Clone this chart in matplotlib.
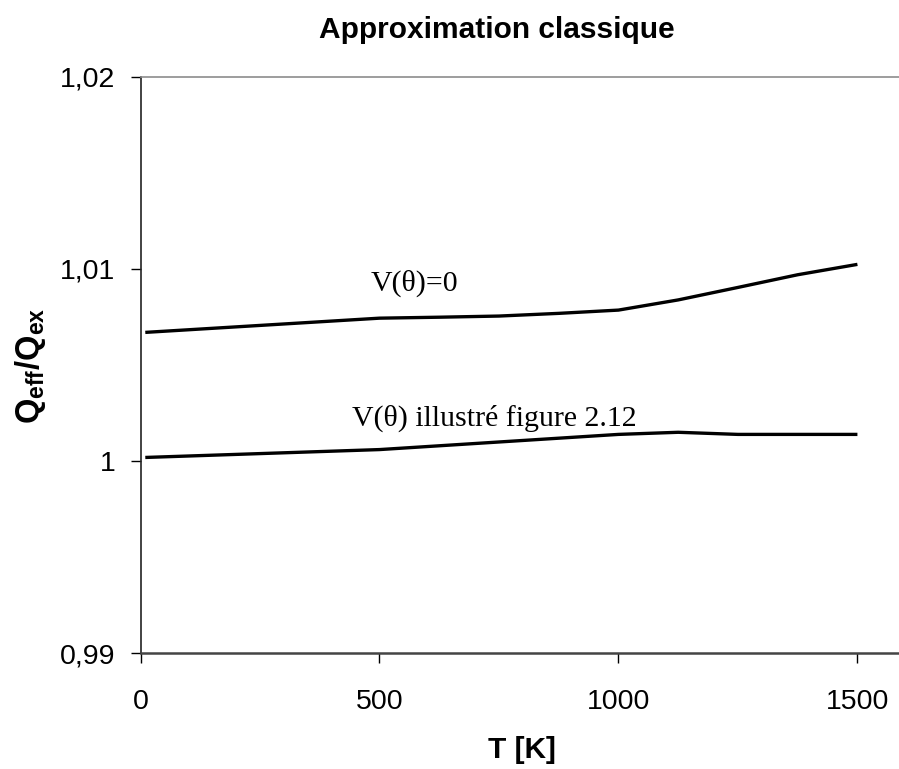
import matplotlib
matplotlib.use('Agg')
import matplotlib.pyplot as plt

# Temperature grid [K] and efficiency ratios for the two potentials
t_free = [10, 500, 625, 750, 875, 1000, 1125, 1250, 1375, 1500]
q_free = [1.00669, 1.00743, 1.00748, 1.00754, 1.00768, 1.00785, 1.00838, 1.00903, 1.00969, 1.01023]

t_pot = [10, 500, 1000, 1125, 1250, 1375, 1500]
q_pot = [1.00018, 1.00059, 1.00138, 1.00149, 1.00138, 1.00138, 1.00138]

x_ticks = [0, 500, 1000, 1500]
y_ticks = [0.99, 1.00, 1.01, 1.02]
y_tick_labels = ['0,99', '1', '1,01', '1,02']

plt.rcParams['font.family'] = 'Liberation Sans'
plt.rcParams['mathtext.fontset'] = 'custom'
plt.rcParams['mathtext.rm'] = 'Liberation Sans'
plt.rcParams['mathtext.bf'] = 'Liberation Sans:bold'

fig = plt.figure(figsize=(8.99, 7.69), dpi=100)
ax = fig.add_axes([0.1563, 0.1508, 0.8437, 0.7495])

ax.plot(t_free, q_free, color='black', linewidth=2.4, solid_capstyle='butt')
ax.plot(t_pot, q_pot, color='black', linewidth=2.4, solid_capstyle='butt')

ax.set_xlim(0, 1587)
ax.set_ylim(0.99, 1.02)
ax.set_xticks(x_ticks)
ax.set_xticklabels([str(v) for v in x_ticks])
ax.set_yticks(y_ticks)
ax.set_yticklabels(y_tick_labels)

ax.tick_params(axis='x', direction='out', length=7, width=1, pad=19, labelsize=20.5)
ax.tick_params(axis='y', direction='out', length=7, width=1, pad=11, labelsize=20.5)

ax.spines['right'].set_visible(False)
ax.spines['top'].set_color('#8c8c8c')
ax.spines['top'].set_linewidth(1.2)
ax.spines['left'].set_color('#222222')
ax.spines['left'].set_linewidth(1.2)
ax.spines['bottom'].set_color('#444444')
ax.spines['bottom'].set_linewidth(1.8)

# Curve annotations
ax.text(0.303, 0.642, 'V(θ)=0', transform=ax.transAxes,
        family='Liberation Serif', fontsize=21.5, ha='left', va='center')
ax.text(0.279, 0.408, 'V(θ) illustré figure 2.12', transform=ax.transAxes,
        family='Liberation Serif', fontsize=21.5, ha='left', va='center')

fig.text(0.5806, 1 - 750 / 769, 'T [K]', fontsize=21.5, fontweight='bold',
         ha='center', va='center')
fig.text(0.0334, 0.525, r'$\mathbf{Q_{eff}/Q_{ex}}$', rotation=90,
         fontsize=23.5, ha='center', va='center')
fig.text(0.553, 0.961, 'Approximation classique', fontsize=21.5,
         fontweight='bold', ha='center', va='center')

fig.savefig('out.png', dpi=100)
